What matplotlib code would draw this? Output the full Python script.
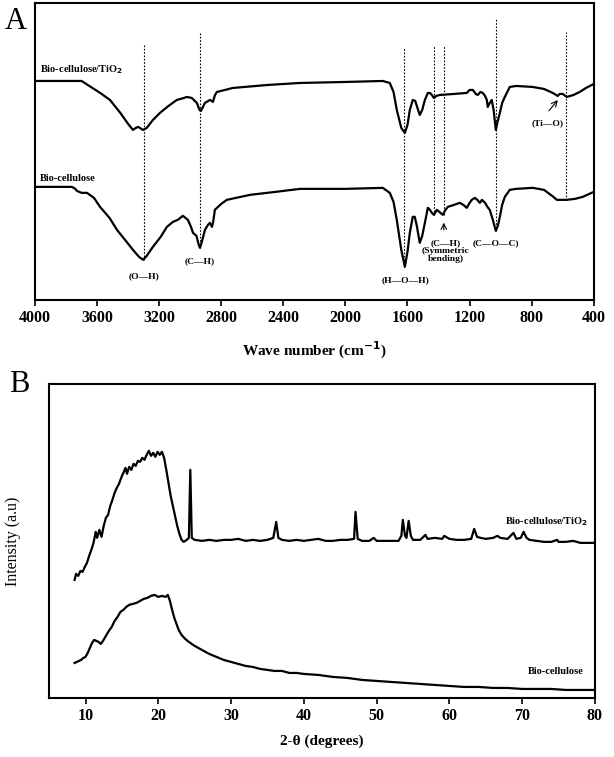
import matplotlib.pyplot as plt

plt.rcParams['font.family'] = ['Liberation Serif', 'DejaVu Serif']

# ---- FTIR (panel A) ----
wn_tio2 = [4000, 3700, 3650, 3580, 3517, 3450, 3400, 3369, 3350, 3335, 3304, 3280, 3240, 3195,
           3140, 3086, 3040, 3022, 2990, 2970, 2957, 2940, 2931, 2918, 2905, 2873, 2862, 2854,
           2840, 2828, 2725, 2500, 2293, 2000, 1759, 1714, 1690, 1669, 1640, 1617, 1600, 1585,
           1566, 1550, 1540, 1521, 1505, 1488, 1469, 1455, 1443, 1430, 1415, 1392, 1300, 1218,
           1200, 1179, 1160, 1147, 1130, 1115, 1100, 1089, 1083, 1070, 1057, 1045, 1031, 1020,
           1005, 990, 973, 941, 900, 793, 720, 664, 632, 620, 600, 574, 530, 490, 450, 400]
t_tio2 = [219, 219, 214, 207, 200, 187, 176, 170, 172, 173, 170, 172, 180, 187,
          194, 200, 202, 203, 202, 199, 197, 190, 189, 193, 197, 200, 199, 198,
          205, 208, 212, 215, 217, 218, 219, 217, 208, 190, 172, 167, 175, 190,
          200, 199, 194, 185, 190, 200, 207, 207, 205, 202, 204, 205, 206, 207,
          210, 210, 206, 205, 208, 207, 204, 200, 193, 197, 200, 190, 170, 178,
          187, 197, 203, 213, 214, 213, 211, 207, 204, 206, 206, 203, 205, 208, 212, 216]

wn_cell = [4000, 3762, 3740, 3730, 3700, 3665, 3620, 3581, 3520, 3472, 3420, 3369, 3330, 3304,
           3280, 3240, 3190, 3150, 3111, 3080, 3047, 3015, 2995, 2982, 2960, 2945, 2937, 2925,
           2905, 2885, 2873, 2860, 2852, 2841, 2800, 2764, 2615, 2450, 2293, 2000, 1759, 1714,
           1690, 1669, 1640, 1617, 1600, 1585, 1566, 1553, 1540, 1521, 1505, 1488, 1469, 1455,
           1443, 1430, 1411, 1395, 1373, 1355, 1340, 1300, 1263, 1240, 1218, 1200, 1186, 1166,
           1150, 1134, 1120, 1100, 1085, 1070, 1050, 1031, 1018, 1005, 990, 973, 941, 900,
           793, 720, 660, 638, 574, 520, 471, 400]
t_cell = [113, 113, 111, 109, 107, 107, 102, 93, 82, 70, 60, 50, 43, 40,
          44, 53, 63, 73, 78, 80, 84, 80, 73, 67, 64, 55, 52, 58,
          70, 75, 77, 73, 78, 90, 96, 100, 105, 108, 111, 111, 112, 107,
          98, 80, 50, 33, 48, 67, 83, 83, 74, 57, 64, 77, 92, 90,
          87, 85, 90, 88, 85, 90, 93, 95, 97, 95, 92, 97, 100, 102,
          100, 97, 100, 97, 93, 90, 80, 69, 74, 83, 95, 103, 110, 111,
          112, 110, 103, 100, 100, 101, 103, 108]

mark_wn = [3300, 2937, 1620, 1430, 1366, 1031, 580]
mark_top = [255, 268, 253, 254, 254, 282, 268]
mark_bot = [40, 52, 33, 85, 85, 69, 100]

# ---- XRD (panel B) ----
tt_tio2 = [8.5, 8.7, 9.0, 9.3, 9.6, 9.9, 10.2, 10.5, 10.8, 11.1, 11.4, 11.6, 11.9, 12.2, 12.5,
           12.8, 13.1, 13.4, 13.7, 14.0, 14.3, 14.6, 14.9, 15.2, 15.5, 15.7, 16.0, 16.3, 16.6,
           16.9, 17.2, 17.5, 17.8, 18.1, 18.4, 18.7, 19.0, 19.3, 19.6, 19.9, 20.2, 20.5, 20.8,
           21.1, 21.4, 21.7, 22.0, 22.3, 22.6, 22.9, 23.2, 23.5, 23.9, 24.2, 24.4, 24.6, 25.0,
           26, 27, 28, 29, 30, 31, 32, 33, 34, 35, 35.8, 36.2, 36.5, 37, 38, 39, 40, 41, 42,
           43, 44, 45, 46, 46.9, 47.1, 47.4, 48, 49, 49.6, 50, 51, 52, 53, 53.4, 53.6, 53.9,
           54.1, 54.4, 54.7, 55, 56, 56.7, 57, 58, 59, 59.3, 60, 61, 62, 63, 63.4, 63.8, 64.3,
           65, 66, 66.6, 67, 68, 68.8, 69.2, 69.8, 70.2, 70.6, 71, 72, 73, 74, 74.8, 75, 76,
           77, 78, 79, 80]
i_tio2 = [118, 124, 122, 127, 126, 131, 135, 142, 148, 155, 166, 160, 168, 161, 172,
          180, 183, 192, 198, 205, 210, 214, 220, 225, 230, 224, 231, 228, 234,
          232, 237, 236, 240, 238, 243, 247, 242, 245, 241, 246, 243, 246, 240,
          228, 215, 202, 192, 182, 172, 164, 158, 156, 158, 160, 228, 160, 158,
          157, 158, 157, 158, 158, 159, 157, 158, 157, 158, 160, 176, 160, 158, 157, 158, 157, 158, 159,
          157, 157, 158, 158, 159, 186, 159, 157, 157, 160, 157, 157, 157, 157, 162, 178, 162,
          160, 177, 162, 158, 158, 163, 159, 160, 159, 162, 159, 158, 158, 159, 169, 161, 160,
          159, 160, 162, 160, 159, 165, 159, 160, 166, 160, 158, 157, 156, 156, 158, 156, 156,
          157, 155, 155, 155]

tt_cell = [8.5, 8.8, 9.1, 9.4, 9.7, 10.0, 10.3, 10.6, 10.9, 11.2, 11.5, 11.8, 12.1, 12.4, 12.8,
           13.2, 13.6, 14.0, 14.4, 14.8, 15.2, 15.6, 16.0, 16.5, 17.0, 17.5, 18.0, 18.5, 19.0,
           19.5, 20.0, 20.5, 21.0, 21.3, 21.6, 21.9, 22.2, 22.5, 22.8, 23.2, 23.7, 24.2, 25,
           26, 27, 28, 29, 30, 31, 32, 33, 34, 35, 36, 37, 38, 39, 40, 42, 44, 46, 48, 50, 52,
           54, 56, 58, 60, 62, 64, 66, 68, 70, 72, 74, 76, 78, 80]
i_cell = [35, 36, 37, 38, 40, 41, 45, 50, 55, 58, 57, 56, 54, 57, 62,
          67, 71, 77, 81, 86, 88, 91, 93, 94, 95, 97, 99, 100, 102,
          103, 101, 102, 101, 103, 97, 88, 80, 74, 68, 63, 59, 56, 52,
          48, 44, 41, 38, 36, 34, 32, 31, 29, 28, 27, 27, 25, 25, 24, 23, 21, 20, 18, 17, 16,
          15, 14, 13, 12, 11, 11, 10, 10, 9, 9, 9, 8, 8, 8]

fig = plt.figure(figsize=(6.14, 7.57), dpi=100)

# panel A
ax1 = fig.add_axes([0.057, 0.604, 0.910, 0.392])
ax1.plot(wn_tio2, t_tio2, color='black', lw=1.6)
ax1.plot(wn_cell, t_cell, color='black', lw=1.6)
ax1.vlines(mark_wn, mark_bot, mark_top, colors='black', linestyles=(0, (1.5, 1.5)), lw=0.8)
ax1.set_xlim(4000, 400)
ax1.set_ylim(0, 297)
ax1.set_yticks([])
ax1.set_xticks(range(4000, 399, -400))
ax1.tick_params(axis='x', direction='out', length=4, width=1.2)
for lab in ax1.get_xticklabels():
    lab.set_fontweight('bold')
    lab.set_fontsize(11.5)
ax1.set_xlabel('Wave number (cm$^{\\mathbf{-1}}$)', fontsize=11, fontweight='bold', labelpad=10)
for s in ax1.spines.values():
    s.set_linewidth(1.5)

kw = dict(fontsize=6.8, fontweight='bold', ha='center', va='center')
ax1.text(3970, 230, 'Bio-cellulose/TiO$_\\mathbf{2}$', fontsize=7.5, fontweight='bold', ha='left', va='center')
ax1.text(3970, 121, 'Bio-cellulose', fontsize=7.5, fontweight='bold', ha='left', va='center')
ax1.text(3300, 24, '(O\u2014H)', **kw)
ax1.text(2937, 39, '(C\u2014H)', **kw)
ax1.text(1610, 20, '(H\u2014O\u2014H)', **kw)
ax1.text(1355, 49, '(C\u2014H)\n(Symmetric\nbending)', linespacing=0.95, **kw)
ax1.text(1031, 57, '(C\u2014O\u2014C)', **kw)
ax1.text(700, 177, '(Ti\u2014O)', **kw)
ax1.annotate('', xy=(1366, 80), xytext=(1366, 67),
             arrowprops=dict(arrowstyle='->', lw=0.8, color='black'))
ax1.annotate('', xy=(620, 202), xytext=(700, 187),
             arrowprops=dict(arrowstyle='->', lw=0.8, color='black'))
fig.text(0.008, 0.972, 'A', fontsize=22, va='center', ha='left')

# panel B
ax2 = fig.add_axes([0.080, 0.078, 0.889, 0.415])
ax2.plot(tt_tio2, i_tio2, color='black', lw=1.6)
ax2.plot(tt_cell, i_cell, color='black', lw=1.6)
ax2.set_xlim(5, 80)
ax2.set_ylim(0, 314)
ax2.set_yticks([])
ax2.set_xticks(range(10, 81, 10))
ax2.tick_params(axis='x', direction='out', length=4, width=1.2)
for lab in ax2.get_xticklabels():
    lab.set_fontweight('bold')
    lab.set_fontsize(11.5)
ax2.set_xlabel('2-\u03b8 (degrees)', fontsize=11, fontweight='bold', labelpad=7)
ax2.set_ylabel('Intensity (a.u)', fontsize=11.5, labelpad=20)
for s in ax2.spines.values():
    s.set_linewidth(1.5)
ax2.text(79, 176, 'Bio-cellulose/TiO$_\\mathbf{2}$', fontsize=7.5, fontweight='bold', ha='right', va='center')
ax2.text(78.5, 26, 'Bio-cellulose', fontsize=7.5, fontweight='bold', ha='right', va='center')
fig.text(0.015, 0.492, 'B', fontsize=22, va='center', ha='left')

fig.savefig('out.png', dpi=100)
